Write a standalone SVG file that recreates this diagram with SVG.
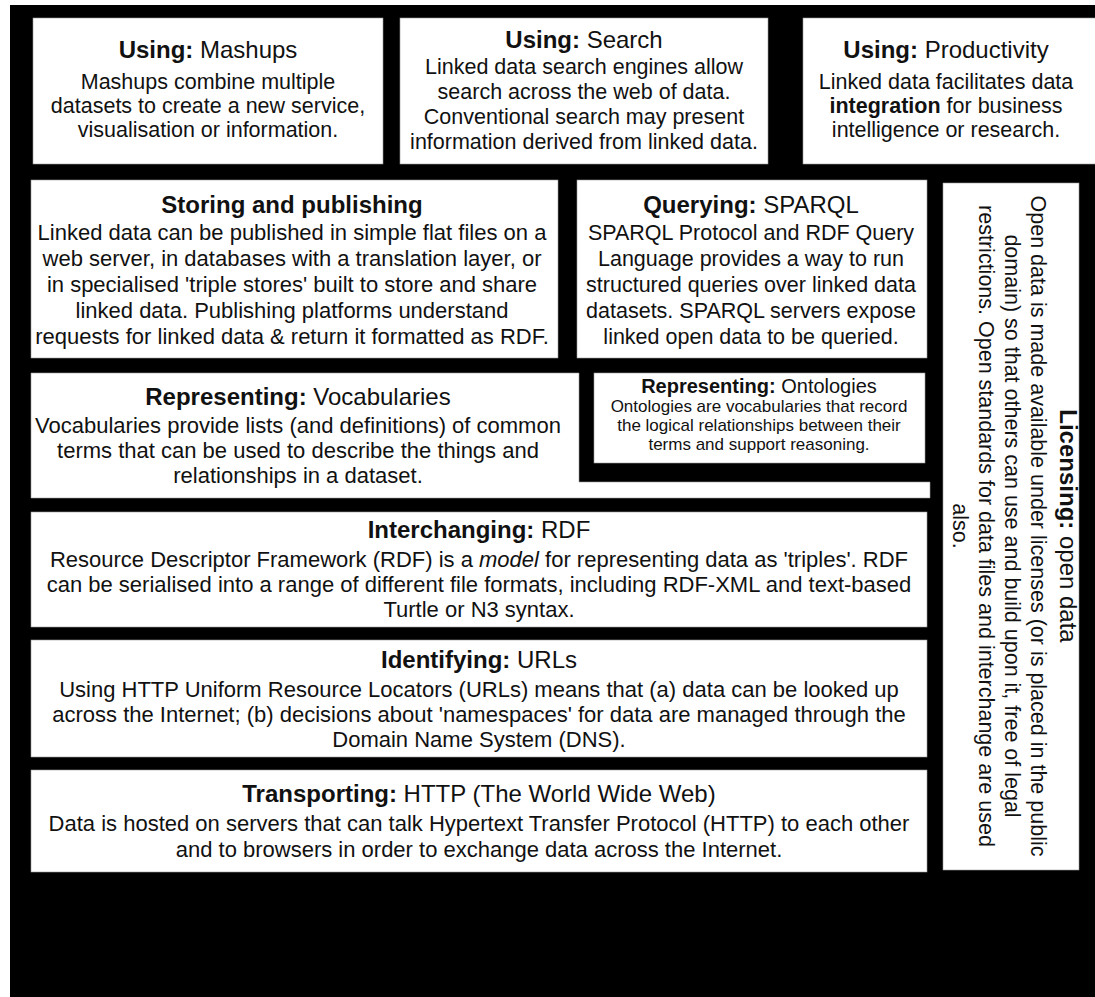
<svg xmlns="http://www.w3.org/2000/svg" width="1095" height="997" viewBox="0 0 1095 997">
<style>
.box{fill:#ffffff;stroke:#9a9a9a;stroke-width:0.6}
text{font-family:"Liberation Sans",Arial,Helvetica,sans-serif;fill:#111;text-anchor:middle}
.t{font-size:24px}
.b{font-size:21.5px}
.bl{font-size:22px}
.st{font-size:20px}
.sb{font-size:17px}
.bold{font-weight:bold}
</style>
<rect x="0" y="0" width="1095" height="997" fill="#ffffff"/>
<rect x="10" y="5" width="1085" height="992" fill="#000000"/>
<g id="connectors"></g>

<g id="mashups">
<rect class="box" x="33" y="18" width="350" height="146"/>
<text class="t" x="208" y="58"><tspan class="bold">Using:</tspan> Mashups</text>
<text class="b" x="208" y="89">Mashups combine multiple</text>
<text class="b" x="208" y="113">datasets to create a new service,</text>
<text class="b" x="208" y="137">visualisation or information.</text>
</g>

<g id="search">
<rect class="box" x="400" y="18" width="368" height="146"/>
<text class="t" x="584" y="48"><tspan class="bold">Using:</tspan> Search</text>
<text class="b" x="584" y="74">Linked data search engines allow</text>
<text class="b" x="584" y="99">search across the web of data.</text>
<text class="b" x="584" y="124">Conventional search may present</text>
<text class="b" x="584" y="149">information derived from linked data.</text>
</g>

<g id="productivity">
<rect class="box" x="803" y="18" width="300" height="146"/>
<text class="t" x="946" y="58"><tspan class="bold">Using:</tspan> Productivity</text>
<text class="b" x="946" y="89">Linked data facilitates data</text>
<text class="b" x="946" y="113"><tspan class="bold">integration</tspan> for business</text>
<text class="b" x="946" y="137">intelligence or research.</text>
</g>

<g id="storing">
<rect class="box" x="31" y="180" width="527" height="178"/>
<text class="t bold" x="292" y="213">Storing and publishing</text>
<text class="bl" x="292" y="240">Linked data can be published in simple flat files on a</text>
<text class="bl" x="292" y="266">web server, in databases with a translation layer, or</text>
<text class="bl" x="292" y="292">in specialised 'triple stores' built to store and share</text>
<text class="bl" x="292" y="318">linked data. Publishing platforms understand</text>
<text class="bl" x="292" y="344">requests for linked data &amp; return it formatted as RDF.</text>
</g>

<g id="querying">
<rect class="box" x="577" y="180" width="350" height="178"/>
<text class="t" x="751" y="213"><tspan class="bold">Querying:</tspan> SPARQL</text>
<text class="b" x="751" y="240">SPARQL Protocol and RDF Query</text>
<text class="b" x="751" y="266">Language provides a way to run</text>
<text class="b" x="751" y="292">structured queries over linked data</text>
<text class="b" x="751" y="318">datasets. SPARQL servers expose</text>
<text class="b" x="751" y="344">linked open data to be queried.</text>
</g>

<g id="vocabularies">
<path class="box" d="M31,373 H579 V482 H930 V498 H31 Z"/>
<text class="t" x="298" y="405"><tspan class="bold">Representing:</tspan> Vocabularies</text>
<text class="bl" x="298" y="433">Vocabularies provide lists (and definitions) of common</text>
<text class="bl" x="298" y="458">terms that can be used to describe the things and</text>
<text class="bl" x="298" y="483">relationships in a dataset.</text>
</g>

<g id="ontologies">
<rect class="box" x="594" y="373" width="331" height="90"/>
<text class="st" x="759" y="393"><tspan class="bold">Representing:</tspan> Ontologies</text>
<text class="sb" x="759" y="412">Ontologies are vocabularies that record</text>
<text class="sb" x="759" y="431">the logical relationships between their</text>
<text class="sb" x="759" y="450">terms and support reasoning.</text>
</g>

<g id="interchanging">
<rect class="box" x="31" y="512" width="896" height="115"/>
<text class="t" x="479" y="538"><tspan class="bold">Interchanging:</tspan> RDF</text>
<text class="bl" x="479" y="567">Resource Descriptor Framework (RDF) is a <tspan font-style="italic">model</tspan> for representing data as 'triples'. RDF</text>
<text class="bl" x="479" y="592">can be serialised into a range of different file formats, including RDF-XML and text-based</text>
<text class="bl" x="479" y="617">Turtle or N3 syntax.</text>
</g>

<g id="identifying">
<rect class="box" x="31" y="640" width="896" height="117"/>
<text class="t" x="479" y="668"><tspan class="bold">Identifying:</tspan> URLs</text>
<text class="bl" x="479" y="697">Using HTTP Uniform Resource Locators (URLs) means that (a) data can be looked up</text>
<text class="bl" x="479" y="722">across the Internet; (b) decisions about 'namespaces' for data are managed through the</text>
<text class="bl" x="479" y="747">Domain Name System (DNS).</text>
</g>

<g id="transporting">
<rect class="box" x="31" y="770" width="896" height="102"/>
<text class="t" x="479" y="802"><tspan class="bold">Transporting:</tspan> HTTP (The World Wide Web)</text>
<text class="bl" x="479" y="831">Data is hosted on servers that can talk Hypertext Transfer Protocol (HTTP) to each other</text>
<text class="bl" x="479" y="857">and to browsers in order to exchange data across the Internet.</text>
</g>

<g id="licensing">
<rect class="box" x="943" y="183" width="136" height="687"/>
<g transform="translate(1011,526) rotate(90)">
<text class="t" x="0" y="-49"><tspan class="bold">Licensing:</tspan> open data</text>
<text class="b" x="0" y="-20">Open data is made available under licenses (or is placed in the public</text>
<text class="b" x="0" y="6">domain) so that others can use and build upon it, free of legal</text>
<text class="b" x="0" y="32">restrictions. Open standards for data files and interchange are used</text>
<text class="b" x="0" y="58">also.</text>
</g>
</g>
</svg>
